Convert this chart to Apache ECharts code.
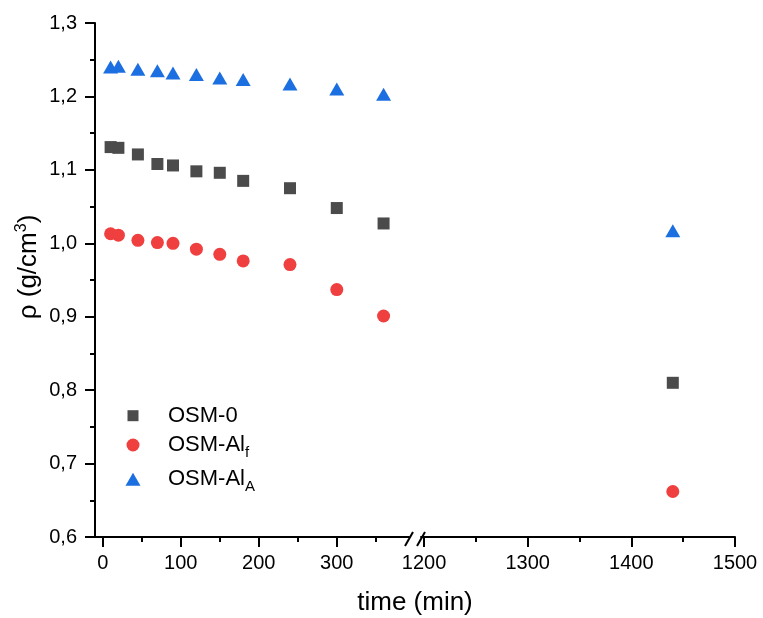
<!DOCTYPE html>
<html><head><meta charset="utf-8">
<script src="https://cdn.jsdelivr.net/npm/echarts@6/dist/echarts.min.js"></script>
<style>html,body{margin:0;padding:0;background:#fff}#c{width:763px;height:618px}</style>
</head><body><div id="c"></div>
<script>
// ---- data ----
const timeShort = [10, 20, 45, 70, 90, 120, 150, 180, 240, 300, 360];
const timeLong = [1440];
const osm0Short = [1.131, 1.130, 1.121, 1.108, 1.106, 1.098, 1.096, 1.085, 1.075, 1.048, 1.027];
const osm0Long = [0.810];
const osmAlfShort = [1.013, 1.011, 1.004, 1.001, 1.000, 0.992, 0.985, 0.976, 0.971, 0.937, 0.901];
const osmAlfLong = [0.662];
const osmAlAShort = [1.240, 1.241, 1.237, 1.235, 1.232, 1.230, 1.225, 1.223, 1.217, 1.210, 1.203];
const osmAlALong = [1.017];
const xTicksLeft = [0, 100, 200, 300];
const xMinorLeft = [50, 150, 250, 350];
const xTicksRight = [1200, 1300, 1400, 1500];
const xMinorRight = [1250, 1350, 1450];
const seriesNames = ['OSM-0', 'OSM-Alf', 'OSM-AlA'];
const legendLabels = {'OSM-0': 'OSM-0', 'OSM-Alf': 'OSM-Al{s|f}', 'OSM-AlA': 'OSM-Al{s|A}'};

// ---- chart ----
const FONT = 'Liberation Sans, Arial, sans-serif';
const COLORS = ['#4b4b4b', '#ef3f3f', '#1c6fe0'];
const SYMBOLS = ['rect', 'circle', 'triangle'];
const SIZES = [12, 13, [15, 13]];
const LEG_W = [11, 13, 15];
const LEG_H = [11, 13, 13];
const LEG_CX = 133;
const LEG_TEXT_X = 168;
const LEG_CY = [415.7, 445, 479.3];
const zip = (xs, ys) => xs.map((x, i) => [x, ys[i]]);
const shortData = [osm0Short, osmAlfShort, osmAlAShort];
const longData = [osm0Long, osmAlfLong, osmAlALong];

const axisLineStyle = {color: '#000', width: 2};
function mainX(grid, min, max, ticks) {
  return {
    type: 'value', gridIndex: grid, position: 'bottom', min: min, max: max,
    axisLine: {show: true, onZero: false, lineStyle: axisLineStyle},
    axisTick: {show: true, customValues: ticks, length: 10, inside: false, lineStyle: axisLineStyle},
    axisLabel: {show: true, customValues: ticks, fontSize: 20, color: '#000', margin: 16, fontFamily: FONT,
      formatter: (v) => String(v)},
    splitLine: {show: false}
  };
}
function minorX(grid, min, max, ticks) {
  return {
    type: 'value', gridIndex: grid, position: 'bottom', min: min, max: max,
    axisLine: {show: false, onZero: false},
    axisTick: {show: true, customValues: ticks, length: 5, inside: false, lineStyle: axisLineStyle},
    axisLabel: {show: false},
    splitLine: {show: false}
  };
}

const series = [];
for (let k = 0; k < 3; k++) {
  series.push({
    name: seriesNames[k], type: 'scatter', xAxisIndex: 0, yAxisIndex: 0,
    symbol: SYMBOLS[k], symbolSize: SIZES[k], itemStyle: {color: COLORS[k], opacity: 1},
    data: zip(timeShort, shortData[k]), z: 3 + k
  });
  series.push({
    name: seriesNames[k], type: 'scatter', xAxisIndex: 2, yAxisIndex: 1,
    symbol: SYMBOLS[k], symbolSize: SIZES[k], itemStyle: {color: COLORS[k], opacity: 1},
    data: zip(timeLong, longData[k]), z: 3 + k
  });
}

const legends = seriesNames.map((n, k) => ({
  orient: 'vertical', left: LEG_CX - LEG_W[k] / 2, top: LEG_CY[k] - 15, padding: 0,
  itemWidth: LEG_W[k], itemHeight: LEG_H[k], data: [{name: n, icon: SYMBOLS[k]}],
  selectedMode: false,
  formatter: (name) => legendLabels[name],
  textStyle: {fontSize: 22, lineHeight: 30, color: '#000', fontFamily: FONT,
    padding: [0, 0, 0, LEG_TEXT_X - (LEG_CX + LEG_W[k] / 2 + 5)],
    rich: {s: {fontSize: 15, lineHeight: 14, verticalAlign: 'bottom', color: '#000', fontFamily: FONT}}}
}));

const option = {
  animation: false,
  backgroundColor: '#fff',
  textStyle: {fontFamily: FONT},
  grid: [
    {left: 95, top: 23, width: 314, height: 514},
    {left: 421, top: 23, width: 314, height: 514}
  ],
  xAxis: [
    mainX(0, -10, 392.6, xTicksLeft),
    minorX(0, -10, 392.6, xMinorLeft),
    mainX(1, 1197.1, 1500, xTicksRight),
    minorX(1, 1197.1, 1500, xMinorRight)
  ],
  yAxis: [
    {
      type: 'value', gridIndex: 0, min: 0.6, max: 1.3, interval: 0.1,
      axisLine: {show: true, onZero: false, lineStyle: axisLineStyle},
      axisTick: {show: true, length: 10, lineStyle: axisLineStyle},
      minorTick: {show: true, splitNumber: 2, length: 5, lineStyle: axisLineStyle},
      axisLabel: {fontSize: 20, color: '#000', margin: 18, fontFamily: FONT,
        formatter: (v) => v.toFixed(1).replace('.', ',')},
      splitLine: {show: false},
      name: 'ρ (g/cm{sup|3})', nameLocation: 'middle', nameGap: 46, nameRotate: 90,
      nameTextStyle: {fontSize: 26, lineHeight: 32, color: '#000', fontFamily: FONT, padding: [0, 0, 0, 26],
        rich: {sup: {fontSize: 16, lineHeight: 15, verticalAlign: 'top', color: '#000', fontFamily: FONT}}}
    },
    {
      type: 'value', gridIndex: 1, min: 0.6, max: 1.3, interval: 0.1, show: false,
      splitLine: {show: false}
    }
  ],
  legend: legends,
  graphic: [
    {type: 'line', shape: {x1: 405, y1: 546, x2: 413, y2: 532}, style: {stroke: '#000', lineWidth: 2}, z: 100},
    {type: 'line', shape: {x1: 417, y1: 546, x2: 425, y2: 532}, style: {stroke: '#000', lineWidth: 2}, z: 100},
    {type: 'text', x: 415, y: 603, style: {text: 'time (min)', fontSize: 26, fill: '#000', fontFamily: FONT,
      textAlign: 'center', textVerticalAlign: 'middle'}}
  ],
  series: series
};

const chart = echarts.init(document.getElementById('c'), null, {renderer: 'canvas'});
chart.setOption(option);
</script>
</body></html>
